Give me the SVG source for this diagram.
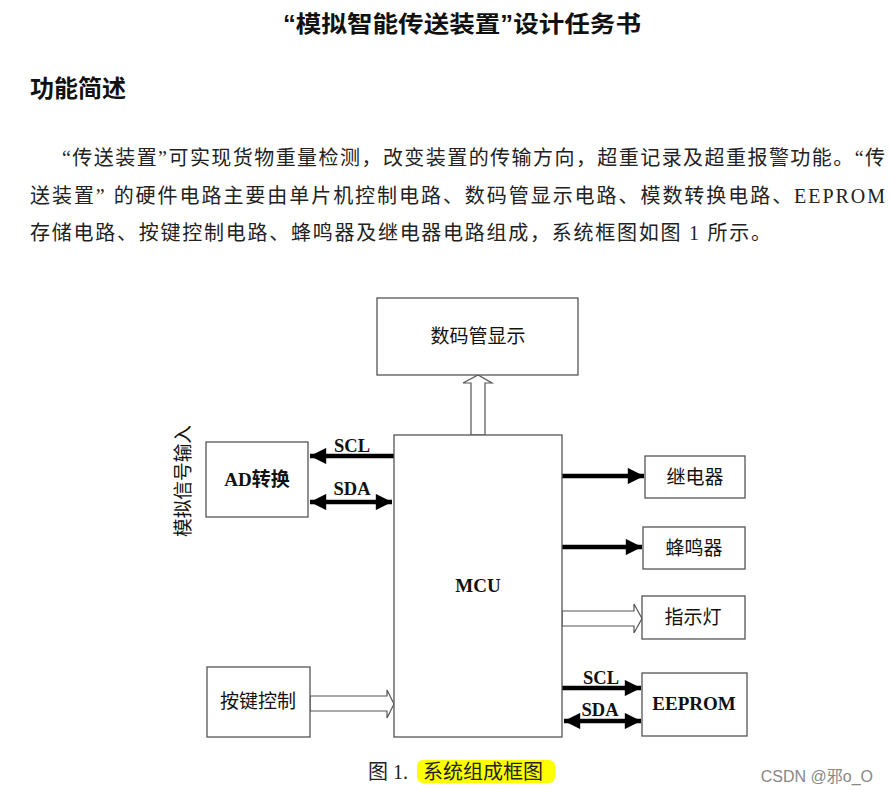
<svg xmlns="http://www.w3.org/2000/svg" width="890" height="795" viewBox="0 0 890 795">
<style>
.box{fill:#fff;stroke:#555;stroke-width:1.3}
.lbl{font-family:"Liberation Serif","Noto Sans CJK SC",serif;font-size:19px;fill:#111;text-anchor:middle}
.b{font-weight:bold}
.sig{font-family:"Liberation Serif","Noto Sans CJK SC",serif;font-size:18.5px;font-weight:bold;fill:#111;text-anchor:middle}
.bus{stroke:#000;stroke-width:4.5;fill:none}
.hollow{fill:#fff;stroke:#555;stroke-width:1.2}
.para{font-family:"Liberation Serif","Noto Sans CJK SC",serif;font-size:20px;fill:#222}
</style>
<defs>
<marker id="ah" viewBox="0 0 10 10" refX="10" refY="5" markerWidth="4.2" markerHeight="3.6" orient="auto-start-reverse" markerUnits="strokeWidth">
<path d="M0,0 L10,5 L0,10 Z" fill="#000"/>
</marker>
</defs>
<rect width="890" height="795" fill="#fff"/>
<g id="header">
<text x="462" y="32" font-family="Liberation Sans,'Noto Sans CJK SC',sans-serif" font-size="23" font-weight="bold" text-anchor="middle" textLength="358" lengthAdjust="spacingAndGlyphs" fill="#111">“模拟智能传送装置”设计任务书</text>
<text x="30" y="97" font-family="Liberation Sans,'Noto Sans CJK SC',sans-serif" font-size="24" font-weight="bold" fill="#111">功能简述</text>
<text class="para" x="62" y="165" textLength="823" lengthAdjust="spacing">“传送装置”可实现货物重量检测，改变装置的传输方向，超重记录及超重报警功能。“传</text>
<text class="para" x="30" y="203" textLength="855" lengthAdjust="spacing">送装置” 的硬件电路主要由单片机控制电路、数码管显示电路、模数转换电路、EEPROM</text>
<text class="para" x="30" y="240" textLength="741" lengthAdjust="spacing">存储电路、按键控制电路、蜂鸣器及继电器电路组成，系统框图如图 1 所示。</text>
</g>
<g id="connectors">
<polygon class="hollow" points="471,435 471,383 463,383 478,375 492,383 485,383 485,435"/>
<line class="bus" x1="394" y1="456" x2="310" y2="456" marker-end="url(#ah)"/>
<line class="bus" x1="310" y1="502" x2="392" y2="502" marker-start="url(#ah)" marker-end="url(#ah)"/>
<line class="bus" x1="562" y1="476" x2="644" y2="476" marker-end="url(#ah)"/>
<line class="bus" x1="562" y1="547" x2="642" y2="547" marker-end="url(#ah)"/>
<polygon class="hollow" points="562,611 634,611 634,604 642,618.5 634,633 634,626 562,626"/>
<line class="bus" x1="562" y1="688" x2="641" y2="688" marker-end="url(#ah)"/>
<line class="bus" x1="564" y1="721" x2="641" y2="721" marker-start="url(#ah)" marker-end="url(#ah)"/>
<polygon class="hollow" points="310,696 387,696 387,690 394,704 387,718 387,711 310,711"/>
<text class="sig" x="352" y="452">SCL</text>
<text class="sig" x="352" y="495">SDA</text>
<text class="sig" x="601" y="684">SCL</text>
<text class="sig" x="600" y="716">SDA</text>
</g>
<g id="display">
<rect class="box" x="377" y="298" width="201" height="77"/>
<text class="lbl" x="478" y="343">数码管显示</text>
</g>
<g id="mcu">
<rect class="box" x="394" y="435" width="168" height="302"/>
<text class="lbl b" x="478" y="592">MCU</text>
</g>
<g id="ad">
<rect class="box" x="206" y="442" width="102" height="75"/>
<text class="lbl b" x="257" y="486">AD转换</text>
</g>
<g id="analog-input">
<text class="lbl" transform="translate(190,481) rotate(-90)" textLength="112" lengthAdjust="spacingAndGlyphs">模拟信号输入</text>
</g>
<g id="relay">
<rect class="box" x="645" y="456" width="100" height="42"/>
<text class="lbl" x="695" y="484">继电器</text>
</g>
<g id="buzzer">
<rect class="box" x="643" y="527" width="102" height="42"/>
<text class="lbl" x="694" y="555">蜂鸣器</text>
</g>
<g id="led">
<rect class="box" x="642" y="596" width="103" height="43"/>
<text class="lbl" x="693" y="624">指示灯</text>
</g>
<g id="eeprom">
<rect class="box" x="642" y="673" width="105" height="63"/>
<text class="lbl b" x="694" y="710">EEPROM</text>
</g>
<g id="keys">
<rect class="box" x="207" y="667" width="103" height="70"/>
<text class="lbl" x="258" y="708">按键控制</text>
</g>
<g id="caption">
<rect x="417" y="760" width="138" height="23" rx="6" fill="#ffff00"/>
<text x="368" y="779" font-family="Liberation Serif,'Noto Sans CJK SC',serif" font-size="20" fill="#222">图 1. <tspan x="423">系统组成框图</tspan></text>
</g>
<text x="873" y="782" font-family="Liberation Sans,'Noto Sans CJK SC',sans-serif" font-size="16" fill="#888" text-anchor="end">CSDN @邪o_O</text>
</svg>
